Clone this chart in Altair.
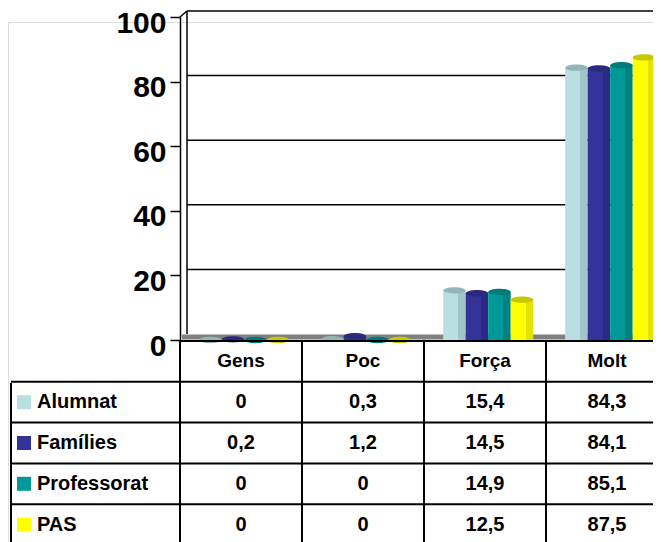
import altair as alt
import pandas as pd

categories = ["Gens", "Poc", "Força", "Molt"]
series = ["Alumnat", "Famílies", "Professorat", "PAS"]
alumnat = [0, 0.3, 15.4, 84.3]
families = [0.2, 1.2, 14.5, 84.1]
professorat = [0, 0, 14.9, 85.1]
pas = [0, 0, 12.5, 87.5]
y_ticks = [0, 20, 40, 60, 80, 100]

front_colors = ["#B9DFE3", "#333399", "#009999", "#FFFF00"]
side_colors = ["#A2C5C9", "#2B2B85", "#008282", "#E3E300"]
cap_colors = ["#94B5B8", "#29297D", "#007A7A", "#C8C800"]

values = [alumnat, families, professorat, pas]
rows = []
for si, s in enumerate(series):
    for ci, c in enumerate(categories):
        v = values[si][ci]
        rows.append({
            "category": c, "series": s, "value": v,
            "label": f"{v:g}".replace(".", ","),
            "c_cap": cap_colors[si],
        })
df = pd.DataFrame(rows)
hdr = pd.DataFrame({"category": categories, "row": ["header"] * len(categories)})
leg = pd.DataFrame({"row": series, "c_front": front_colors})
row_domain = ["header"] + series
rowlines = pd.DataFrame({"row": row_domain})

FONT = "Liberation Sans"
TOP = 14
W, H = 645, 534 - TOP
x_scale = alt.Scale(domain=categories, range=[172, 660], paddingInner=0, paddingOuter=0)
y_scale = alt.Scale(domain=[0, 100], range=[332 - TOP, 9 - TOP], nice=False, zero=True)
off_scale = alt.Scale(domain=series, paddingInner=0, paddingOuter=0.71, align=0.6)
row_scale = alt.Scale(domain=row_domain, range=[333 - TOP, 537 - TOP], paddingInner=0, paddingOuter=0)

X = alt.X("category:N", scale=x_scale, axis=None)
XO = alt.XOffset("series:N", scale=off_scale, sort=series)

# back wall gridlines + y axis
grid = alt.Chart(pd.DataFrame({"v": y_ticks[1:]})).mark_rule(
    color="black", strokeWidth=1.5, yOffset=-6
).encode(
    y=alt.Y("v:Q", scale=y_scale, axis=alt.Axis(
        values=y_ticks, offset=-172, tickSize=10, tickColor="black", domainColor="black",
        tickWidth=1.5, domainWidth=1.5,
        labelFont=FONT, labelFontSize=30, labelFontWeight="bold", labelColor="black",
        labelPadding=4, labelOffset=6, grid=False, title=None)),
    x=alt.value(179), x2=alt.value(W),
)
wall_df = pd.DataFrame({"lo": [0], "hi": [100]})
backwall = alt.Chart(wall_df).mark_rule(
    color="black", strokeWidth=1.5, yOffset=-6, y2Offset=-6
).encode(x=alt.value(179), y=alt.Y("lo:Q", scale=y_scale), y2="hi:Q")
topdiag = alt.Chart(wall_df).mark_rule(
    color="black", strokeWidth=1.5, y2Offset=-6
).encode(x=alt.value(172), x2=alt.value(179), y=alt.Y("hi:Q", scale=y_scale), y2="hi:Q")
floor = alt.Chart(wall_df).mark_rule(
    color="#808080", strokeWidth=5, yOffset=-3
).encode(x=alt.value(174), x2=alt.value(W), y=alt.Y("lo:Q", scale=y_scale))

bar_layers = []
for si, s in enumerate(series):
    grad = alt.LinearGradient(
        gradient="linear", x1=0, x2=1, y1=0, y2=0,
        stops=[
            alt.GradientStop(offset=0, color=front_colors[si]),
            alt.GradientStop(offset=0.66, color=front_colors[si]),
            alt.GradientStop(offset=0.67, color=side_colors[si]),
            alt.GradientStop(offset=1, color=side_colors[si]),
        ],
    )
    bar_layers.append(
        alt.Chart(df).transform_filter(alt.datum.series == s).mark_bar(color=grad).encode(
            x=X, xOffset=XO, y=alt.Y("value:Q", scale=y_scale),
        )
    )
caps = alt.Chart(df).mark_point(
    shape="M-1,0A1,0.28,0,1,1,1,0A1,0.28,0,1,1,-1,0Z", filled=True, opacity=1, size=500
).encode(
    x=X, xOffset=XO,
    y=alt.Y("value:Q", scale=y_scale),
    color=alt.Color("c_cap:N", scale=None),
)
plot = alt.layer(grid, backwall, topdiag, floor, *bar_layers, caps)

# table
front_df = pd.DataFrame({"row": ["header"]})
frontline = alt.Chart(front_df).mark_rule(color="black", strokeWidth=2).encode(
    x=alt.value(172), x2=alt.value(W),
    y=alt.Y("row:N", scale=row_scale, sort=row_domain, axis=None, bandPosition=0))
hlines = alt.Chart(rowlines).mark_rule(color="black", strokeWidth=2).encode(
    y=alt.Y("row:N", scale=row_scale, sort=row_domain, axis=None, bandPosition=1),
    x=alt.value(3), x2=alt.value(W),
)
vlines = alt.Chart(hdr).mark_rule(color="black", strokeWidth=2).encode(
    x=alt.X("category:N", scale=x_scale, axis=None, bandPosition=0),
    y=alt.value(333 - TOP), y2=alt.value(537 - TOP),
)
leftline = alt.Chart(front_df).mark_rule(color="black", strokeWidth=2).encode(
    x=alt.value(3), y=alt.value(375 - TOP), y2=alt.value(537 - TOP))
htext = alt.Chart(hdr).mark_text(font=FONT, fontSize=19, fontWeight="bold", color="black").encode(
    x=X,
    y=alt.Y("row:N", scale=row_scale, sort=row_domain, axis=None),
    text="category:N",
)
vtext = alt.Chart(df).mark_text(font=FONT, fontSize=20, fontWeight="bold", color="black").encode(
    x=X,
    y=alt.Y("series:N", scale=row_scale, sort=row_domain, axis=None),
    text="label:N",
)
swatch = alt.Chart(leg).mark_square(size=196, opacity=1, filled=True).encode(
    x=alt.value(16),
    y=alt.Y("row:N", scale=row_scale, sort=row_domain, axis=None),
    color=alt.Color("c_front:N", scale=None),
)
ltext = alt.Chart(leg).mark_text(font=FONT, fontSize=20, fontWeight="bold", color="black", align="left").encode(
    x=alt.value(29),
    y=alt.Y("row:N", scale=row_scale, sort=row_domain, axis=None),
    text="row:N",
)
table = alt.layer(frontline, hlines, vlines, leftline, htext, vtext, swatch, ltext)

chart = alt.layer(plot, table).resolve_scale(y="independent").properties(
    width=W, height=H, autosize=alt.AutoSizeParams(type="none"),
    padding={"top": TOP, "left": 0, "right": 0, "bottom": 0}
).configure_view(stroke=None).configure(background="white")

chart.save("out.html", embed_options={"renderer": "svg", "actions": False})
